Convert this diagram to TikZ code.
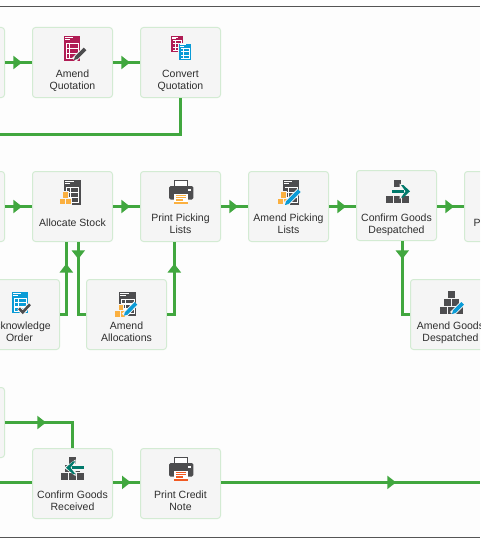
\documentclass[tikz,border=0pt]{standalone}
\usepackage{fontspec}
\setmainfont{Liberation Sans}
\usetikzlibrary{arrows.meta,decorations.markings}
\definecolor{flowc}{HTML}{41A73F}
\definecolor{boxline}{HTML}{D3EBD3}
\definecolor{boxfill}{HTML}{F5F5F5}
\definecolor{darkic}{HTML}{4D4D4F}
\definecolor{crim}{HTML}{B01C54}
\definecolor{bluic}{HTML}{0A9BD6}
\definecolor{yelic}{HTML}{FBB040}
\definecolor{oraic}{HTML}{F15A22}
\definecolor{tealic}{HTML}{00796B}
\definecolor{labc}{HTML}{2E2E2E}
\definecolor{panelc}{HTML}{FDFDFD}
\definecolor{framec}{HTML}{555555}
\tikzset{
  wfbox/.style={draw=boxline,fill=boxfill,line width=1pt,rounded corners=3pt,
    minimum width=80pt,minimum height=70pt,inner sep=0pt,outer sep=0.5pt},
  lab/.style={font=\fontsize{10.5}{12}\selectfont,text=labc,align=center,inner sep=0pt},
  flow/.style={draw=flowc,line width=2.9pt},
  tri/.style={postaction={decorate,decoration={markings,
    mark=at position #1 with {\fill[flowc] (-8.7,-6.8)--(0,0)--(-8.7,6.8)--cycle;}}}}
}
\newcommand{\twolines}[2]{\strut #1\\\strut #2}
% document icon: x, y, width, height, colour
\newcommand{\docicon}[5]{%
  \begin{scope}[shift={(#1,#2)},xscale=#3/16,yscale=#4/25]
    \fill[#5] (0,0) rectangle (16,25);
    \fill[white] (1,1) rectangle (9,1.9);
    \fill[white] (1,3.2) rectangle (6,4);
    \fill[white] (2,7) rectangle (14.6,23.4);
    \fill[#5] (2.9,8) rectangle (5.4,11.8);
    \fill[#5] (6.4,8) rectangle (13.8,11.8);
    \fill[#5] (2.9,13.2) rectangle (5.4,17);
    \fill[#5] (6.4,13.2) rectangle (13.8,17);
    \fill[#5] (2.9,18.4) rectangle (5.4,22.2);
    \fill[#5] (6.4,18.4) rectangle (13.8,22.2);
  \end{scope}}
% three stock boxes: left x, top y
\newcommand{\boxesicon}[2]{%
  \begin{scope}[shift={(#1,#2)}]
    \fill[boxfill] (2.6,-1) rectangle (9.2,5);
    \fill[boxfill] (-1,5.7) rectangle (12,13.2);
    \fill[yelic] (3.6,0) rectangle (8.4,5.4);
    \fill[yelic] (0,6.7) rectangle (5,12);
    \fill[yelic] (6,6.7) rectangle (11,12);
  \end{scope}}
% pencil: tip x,y then end x,y, colour
\newcommand{\pencilicon}[5]{%
  \draw[boxfill,line width=5.6pt] (#1,#2) -- (#3,#4);
  \draw[#5,line width=3.6pt,{Triangle[length=3.4pt,width=3.6pt,sep=0pt]}-] (#1,#2) -- (#3,#4);}
% printer: left x, top y, colour
\newcommand{\printericon}[3]{%
  \begin{scope}[shift={(#1,#2)}]
    \fill[white,draw=darkic,line width=1pt] (5.5,0.5) rectangle (18.2,7);
    \fill[darkic,rounded corners=1.5pt] (0,6) rectangle (24.3,19.5);
    \fill[white] (19.3,9) rectangle (21.6,11.3);
    \fill[white] (5,13.7) rectangle (18.7,24.3);
    \fill[#3] (5,22.3) rectangle (18.7,24.3);
    \fill[#3] (7.2,14.8) rectangle (16.8,16.1);
    \fill[#3] (7.2,17) rectangle (16.8,18.3);
    \fill[#3] (7.2,19.2) rectangle (14,20.5);
  \end{scope}}
% pyramid of blocks: centre x, top y
\newcommand{\pyramidicon}[2]{%
  \begin{scope}[shift={(#1,#2)}]
    \fill[darkic] (-3.6,0) rectangle (3.6,7.4);
    \fill[darkic] (-7.6,8) rectangle (-0.4,15.2);
    \fill[darkic] (0.4,8) rectangle (7.6,15.2);
    \fill[darkic] (-11.6,16) rectangle (-4.4,23);
    \fill[darkic] (-3.6,16) rectangle (3.6,23);
    \fill[darkic] (4.4,16) rectangle (11.6,23);
  \end{scope}}
\begin{document}
\begin{tikzpicture}[x=1pt,y=-1pt]
\useasboundingbox (0,0) rectangle (480,543);
\clip (0,0) rectangle (480,543);
\fill[white] (0,0) rectangle (480,543);
\fill[panelc] (0,6) rectangle (480,537);
\draw[framec,line width=1pt] (0,6.5) -- (480,6.5);
\draw[framec,line width=1pt] (0,537.5) -- (480,537.5);

% connectors' free ends
\coordinate (quoteout) at (0,134.5);
\coordinate (recvin) at (0,482.4);
\coordinate (creditout) at (480,482.4);

% boxes
\node[wfbox] (q0) at (-35.5,62.5) {};
\node[wfbox] (amendq) at (72.5,62.5) {};
\node[wfbox] (convq) at (180.5,62.5) {};
\node[wfbox] (r0) at (-35.5,206.5) {};
\node[wfbox] (alloc) at (72.5,206.5) {};
\node[wfbox] (printp) at (180.5,206.5) {};
\node[wfbox] (amendp) at (288.5,206.5) {};
\node[wfbox] (confd) at (396.5,205.5) {};
\node[wfbox] (nextb) at (504.5,206.5) {};
\node[wfbox] (ack) at (19.5,314.5) {};
\node[wfbox] (amenda) at (126.5,314.5) {};
\node[wfbox] (amendg) at (450.5,314.5) {};
\node[wfbox] (r4) at (-35.5,422.5) {};
\node[wfbox] (recv) at (72.5,483.5) {};
\node[wfbox] (credit) at (180.5,483.5) {};

% labels
\node[lab] (tq) at (72.5,81.1) {\twolines{Amend}{Quotation}};
\node[lab] (tc) at (180.5,81.1) {\twolines{Convert}{Quotation}};
\node[lab] (ta) at (72.5,224.1) {\strut Allocate Stock};
\node[lab] (tpp) at (180.5,225.1) {\twolines{Print Picking}{Lists}};
\node[lab] (tap) at (288.5,225.1) {\twolines{Amend Picking}{Lists}};
\node[lab] (tcd) at (396.5,225.1) {\twolines{Confirm Goods}{Despatched}};
\node[lab,anchor=west] (tn) at (473.3,224.1) {\strut P};
\node[lab] (tack) at (19.5,333.1) {\twolines{Acknowledge}{Order}};
\node[lab] (taa) at (126.5,333.1) {\twolines{Amend}{Allocations}};
\node[lab] (tag) at (450.5,333.1) {\twolines{Amend Goods}{Despatched}};
\node[lab] (trc) at (72.5,502.1) {\twolines{Confirm Goods}{Received}};
\node[lab] (tcr) at (180.5,502.1) {\twolines{Print Credit}{Note}};

% connectors
\draw[flow,tri=17pt] (q0.east) -- (amendq.west);
\draw[flow,tri=17pt] (amendq.east) -- (convq.west);
\draw[flow] (convq.south) |- (quoteout);
\draw[flow,tri=17pt] (r0.east) -- (alloc.west);
\draw[flow,tri=17pt] (alloc.east) -- (printp.west);
\draw[flow,tri=17pt] (printp.east) -- (amendp.west);
\draw[flow,tri=17pt] (amendp.east) -- (confd.west |- amendp.east);
\draw[flow,tri=17pt] (confd.east |- nextb.west) -- (nextb.west);
\draw[flow,tri=57pt] (ack.east) -| ([xshift=-6.2pt]alloc.south);
\draw[flow,tri=17pt] ([xshift=5.8pt]alloc.south) |- (amenda.west);
\draw[flow,tri=58pt] (amenda.east) -| ([xshift=-6.2pt]printp.south);
\draw[flow,tri=18pt] ([xshift=5.8pt]confd.south) |- (amendg.west);
\draw[flow,tri=41pt] (r4.east) -| (recv.north);
\draw[flow] (recvin) -- (recv.west |- recvin);
\draw[flow,tri=17.7pt] (recv.east |- recvin) -- (credit.west |- recvin);
\draw[flow,tri=175pt] (credit.east |- creditout) -- (creditout);

% icons
\docicon{64}{36}{16}{24.7}{crim}
\pencilicon{74}{60}{85}{49}{darkic}
\docicon{171}{36}{12}{15.7}{crim}
\fill[boxfill] (178,42.7) rectangle (192,61);
\docicon{179}{43.7}{12}{16.3}{bluic}
\docicon{64.3}{180}{16.4}{25}{darkic}
\boxesicon{59.7}{192.3}
\printericon{169}{180}{yelic}
\docicon{282.5}{180}{16.5}{25}{darkic}
\boxesicon{277.7}{192.3}
\pencilicon{285}{205}{299.3}{190.7}{bluic}
\pyramidicon{397.5}{180}
\fill[boxfill] (390,187.5) rectangle (400,195);
\fill[boxfill] (399.5,183.5) -- (411.5,191.3) -- (399.5,199) -- cycle;
\fill[tealic] (391.5,189.8) rectangle (404,192.8);
\fill[tealic] (401,185) -- (403.3,185) -- (410,191.3) -- (403.3,197.6) -- (401,197.6) -- (405.5,191.3) -- cycle;
\docicon{12}{292}{16.3}{21.3}{bluic}
\draw[boxfill,line width=4.6pt] (19,308.3) -- (22.7,312.3) -- (30,304.3);
\draw[darkic,line width=2.6pt] (19,308.3) -- (22.7,312.3) -- (30,304.3);
\docicon{119.3}{292}{16.7}{24}{darkic}
\boxesicon{115}{304.6}
\pencilicon{124}{315.7}{136}{303.3}{bluic}
\pyramidicon{451.5}{291}
\pencilicon{452}{314}{462.7}{303.3}{bluic}
\pyramidicon{72.5}{457}
\fill[boxfill] (64,467.7) -- (75.5,459.5) -- (75.5,476) -- cycle;
\fill[boxfill] (74,465) rectangle (85,470.5);
\fill[tealic] (72,466.2) rectangle (84.3,469.2);
\fill[tealic] (75.3,461.4) -- (73,461.4) -- (66,467.7) -- (73,474) -- (75.3,474) -- (70.5,467.7) -- cycle;
\printericon{169}{457}{oraic}
\end{tikzpicture}
\end{document}
